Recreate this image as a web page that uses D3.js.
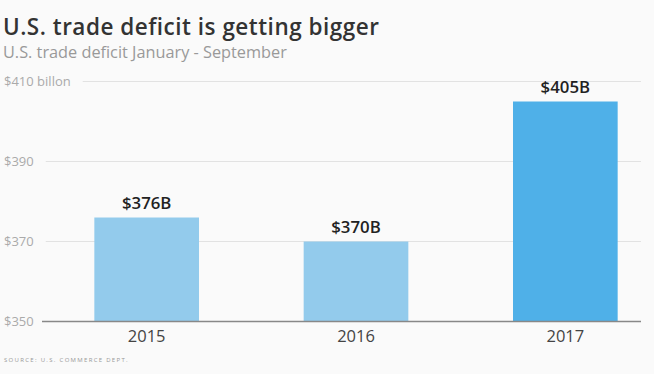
<!DOCTYPE html>
<html>
<head>
<meta charset="utf-8">
<style>
  body { margin: 0; background: #fafafa; }
  svg { display: block; font-family: "Open Sans", Roboto, sans-serif; }
</style>
</head>
<body>
<script src="https://d3js.org/d3.v7.min.js"></script>
<script>

// chart data
var years = ["2015", "2016", "2017"];
var deficit = [376, 370, 405];
var valueLabels = ["$376B", "$370B", "$405B"];
var tickValues = [350, 370, 390, 410];
var tickLabels = ["$350", "$370", "$390", "$410 billon"];

var width = 654, height = 374;

var svg = d3.select("body").append("svg")
    .attr("width", width)
    .attr("height", height);

svg.append("rect")
    .attr("width", width)
    .attr("height", height)
    .attr("fill", "#fafafa");

// scales
var x = d3.scaleBand()
    .domain(years)
    .range([42, 670])
    .paddingInner(0.5)
    .paddingOuter(0.25);

var y = d3.scaleLinear()
    .domain([350, 410])
    .range([321.5, 81.5]);

// title
svg.append("text")
    .attr("x", 3)
    .attr("y", 35)
    .attr("fill", "#333")
    .style("font-size", "22.5px")
    .style("font-weight", 600)
    .style("letter-spacing", "0.5px")
    .text("U.S. trade deficit is getting bigger");

svg.append("text")
    .attr("x", 3)
    .attr("y", 58)
    .attr("fill", "#999")
    .style("font-size", "16.3px")
    .text("U.S. trade deficit January - September");

// gridlines + tick labels
var ticks = svg.append("g");
tickValues.forEach(function(v, i) {
    var lbl = ticks.append("text")
        .attr("x", 4)
        .attr("y", y(v) + 4.5)
        .attr("fill", "#aaa")
        .style("font-size", "13px")
        .text(tickLabels[i]);
    var w = lbl.node().getComputedTextLength();
    if (v !== 350) {
        ticks.append("line")
            .attr("x1", 4 + w + 12)
            .attr("x2", 641)
            .attr("y1", y(v))
            .attr("y2", y(v))
            .attr("stroke", "#e2e2e2")
            .attr("stroke-width", 1);
    }
});

// bars
svg.selectAll(".bar")
    .data(years)
    .enter()
    .append("rect")
    .attr("class", "bar")
    .attr("x", function(d) { return x(d); })
    .attr("width", x.bandwidth())
    .attr("y", function(d, i) { return y(deficit[i]); })
    .attr("height", function(d, i) { return y(350) - y(deficit[i]); })
    .attr("fill", function(d, i) { return i === 2 ? "#4fb0e8" : "#93cbec"; });

// baseline
svg.append("line")
    .attr("x1", 42)
    .attr("x2", 641)
    .attr("y1", y(350))
    .attr("y2", y(350))
    .attr("stroke", "#888")
    .attr("stroke-width", 1.5);

// value labels
svg.selectAll(".val")
    .data(years)
    .enter()
    .append("text")
    .attr("class", "val")
    .attr("x", function(d) { return x(d) + x.bandwidth() / 2; })
    .attr("y", function(d, i) { return y(deficit[i]) - 8.5; })
    .attr("text-anchor", "middle")
    .attr("fill", "#222")
    .style("font-size", "16.8px")
    .style("font-weight", 600)
    .text(function(d, i) { return valueLabels[i]; });

// year labels
svg.selectAll(".yr")
    .data(years)
    .enter()
    .append("text")
    .attr("class", "yr")
    .attr("x", function(d) { return x(d) + x.bandwidth() / 2; })
    .attr("y", 342)
    .attr("text-anchor", "middle")
    .attr("fill", "#444")
    .style("font-size", "16.5px")
    .text(function(d) { return d; });

// source
svg.append("text")
    .attr("x", 4)
    .attr("y", 362)
    .attr("fill", "#999")
    .style("font-size", "6px")
    .style("letter-spacing", "1.3px")
    .text("SOURCE: U.S. COMMERCE DEPT.");

</script>
</body>
</html>
